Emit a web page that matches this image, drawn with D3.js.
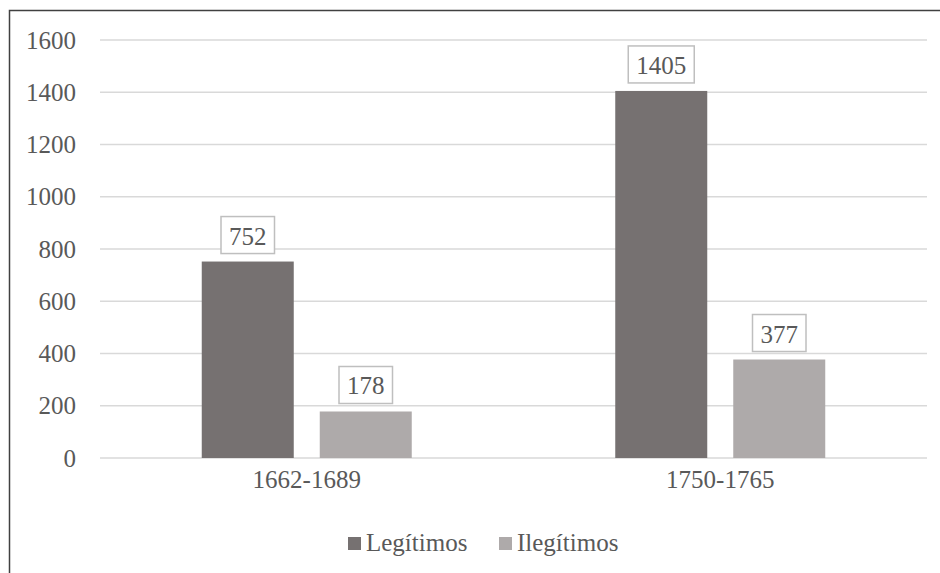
<!DOCTYPE html>
<html>
<head>
<meta charset="utf-8">
<script src="https://cdn.jsdelivr.net/npm/d3@7"></script>
<style>
  @font-face {
    font-family: "ChartSerif";
    src: local("Liberation Serif"), local("LiberationSerif"), local("LiberationSerif-Regular");
  }
  body { margin: 0; background: #fff; }
  svg { display: block; }
  svg text { font-family: "Liberation Serif", "ChartSerif", Tinos, "Times New Roman", serif; }
</style>
</head>
<body>
<svg id="chart" width="940" height="573"></svg>
<script>
// Periods and baptism counts by legitimacy
const periods = ["1662-1689", "1750-1765"];
const seriesNames = ["Legítimos", "Ilegítimos"];
const legitimos = [752, 1405];
const ilegitimos = [178, 377];
const yTicks = [0, 200, 400, 600, 800, 1000, 1200, 1400, 1600];
const colors = ["#767171", "#AEAAAA"];

const FONT = '"Liberation Serif", "ChartSerif", Tinos, "Times New Roman", serif';
const TEXT_COLOR = "#595959";

const rows = periods.map((p, i) => ({ period: p, values: [legitimos[i], ilegitimos[i]] }));

const svg = d3.select("#chart");
const W = 940;
const margin = { left: 100, right: 13 };

// Outer frame (right and bottom edges fall outside the canvas)
svg.append("rect")
  .attr("x", 9.5).attr("y", 10.5)
  .attr("width", 960).attr("height", 600)
  .attr("fill", "none").attr("stroke", "#404040").attr("stroke-width", 1.5);

const x0 = d3.scaleBand().domain(periods).range([margin.left, W - margin.right]).paddingInner(0).paddingOuter(0);
const y = d3.scaleLinear().domain([0, 1600]).range([458, 40]);

const barW = 92, gap = 26;
const x1 = d3.scaleBand().domain(seriesNames)
  .range([-(barW + gap / 2), barW + gap / 2]).paddingInner(gap / (barW + gap)).paddingOuter(0);

function styleText(sel, size) {
  sel.style("font-family", FONT).style("font-size", size + "px").attr("fill", TEXT_COLOR);
}

// Gridlines
svg.append("g").selectAll("line").data(yTicks).join("line")
  .attr("x1", margin.left).attr("x2", W - margin.right)
  .attr("y1", d => y(d)).attr("y2", d => y(d))
  .attr("stroke", "#d9d9d9").attr("stroke-width", 1.3);

// Y axis labels
const yAxis = d3.axisLeft(y).tickValues(yTicks).tickSize(0).tickPadding(0).tickFormat(d3.format("d"));
const gy = svg.append("g").attr("transform", "translate(76,0)").call(yAxis);
gy.attr("font-family", null).attr("font-size", null);
gy.select(".domain").remove();
styleText(gy.selectAll("text"), 25);

// X axis labels
const xAxis = d3.axisBottom(x0).tickSize(0).tickPadding(0);
const gx = svg.append("g").attr("transform", "translate(0,470)").call(xAxis);
gx.attr("font-family", null).attr("font-size", null);
gx.select(".domain").remove();
styleText(gx.selectAll("text"), 25);

// Bars
const groups = svg.append("g").selectAll("g").data(rows).join("g")
  .attr("transform", d => `translate(${x0(d.period) + x0.bandwidth() / 2},0)`);

groups.selectAll("rect").data(d => d.values.map((v, i) => ({ v, name: seriesNames[i], i }))).join("rect")
  .attr("x", d => x1(d.name))
  .attr("width", x1.bandwidth())
  .attr("y", d => y(d.v))
  .attr("height", d => y(0) - y(d.v))
  .attr("fill", d => colors[d.i]);

// Value labels in boxes
groups.each(function (row) {
  const g = d3.select(this);
  row.values.forEach((v, i) => {
    const cx = x1(seriesNames[i]) + x1.bandwidth() / 2;
    const label = String(v);
    const boxW = label.length * 12.5 + 16;
    const boxH = 37;
    g.append("rect")
      .attr("x", cx - boxW / 2)
      .attr("y", y(v) - 8 - boxH)
      .attr("width", boxW)
      .attr("height", boxH)
      .attr("fill", "#fff")
      .attr("stroke", "#bfbfbf").attr("stroke-width", 1.5);
    const t = g.append("text")
      .attr("x", cx).attr("y", y(v) - 17)
      .attr("text-anchor", "middle")
      .text(label);
    styleText(t, 25);
  });
});

// Legend
const legend = svg.append("g");
const legendItems = [{ x: 348, name: seriesNames[0], c: colors[0] }, { x: 499, name: seriesNames[1], c: colors[1] }];
legendItems.forEach(it => {
  legend.append("rect").attr("x", it.x).attr("y", 537).attr("width", 13).attr("height", 13).attr("fill", it.c);
  const t = legend.append("text").attr("x", it.x + 18).attr("y", 551).text(it.name);
  styleText(t, 25);
});
</script>
</body>
</html>
